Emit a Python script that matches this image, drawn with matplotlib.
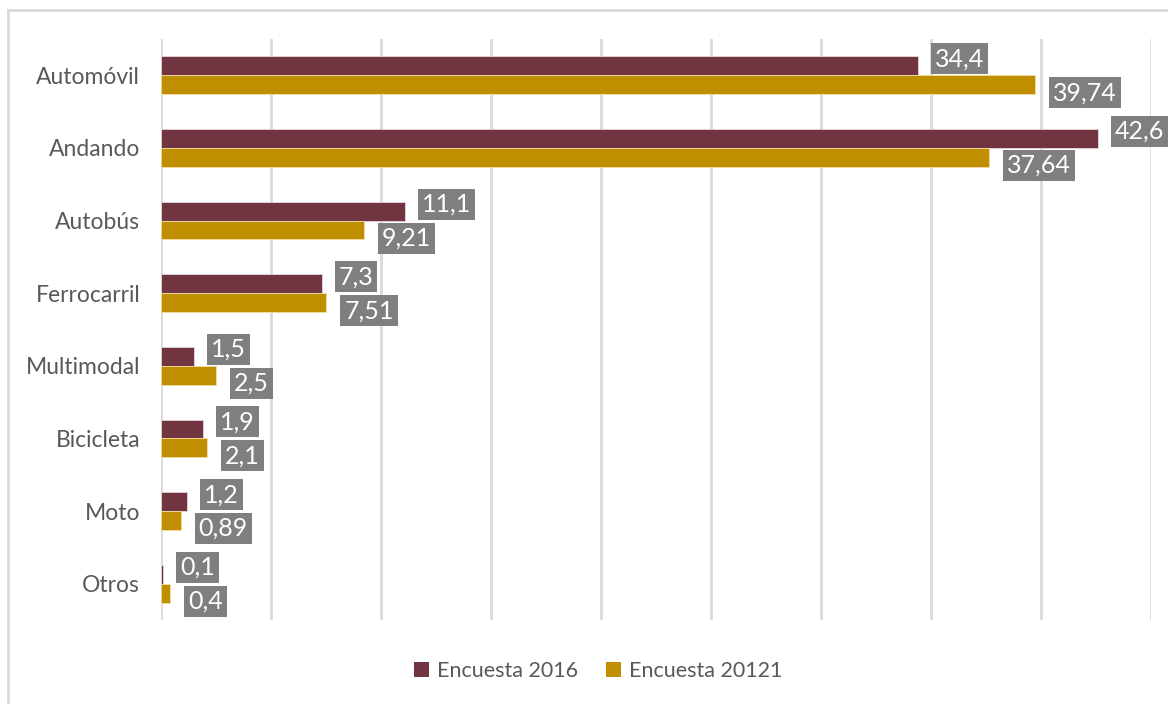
import matplotlib
matplotlib.use("Agg")
import matplotlib.pyplot as plt
from matplotlib.lines import Line2D
from matplotlib.patches import Patch
import numpy as np

plt.rcParams['font.family'] = ['Lato', 'DejaVu Sans']

categories = ["Automóvil", "Andando", "Autobús", "Ferrocarril",
              "Multimodal", "Bicicleta", "Moto", "Otros"]
values_2016 = [34.4, 42.6, 11.1, 7.3, 1.5, 1.9, 1.2, 0.1]
values_2021 = [39.74, 37.64, 9.21, 7.51, 2.5, 2.1, 0.89, 0.4]
labels_2016 = ["34,4", "42,6", "11,1", "7,3", "1,5", "1,9", "1,2", "0,1"]
labels_2021 = ["39,74", "37,64", "9,21", "7,51", "2,5", "2,1", "0,89", "0,4"]
series_names = ["Encuesta 2016", "Encuesta 20121"]

c2016 = "#713541"
c2021 = "#BF8F00"
grid_c = "#D9D9D9"
text_c = "#595959"

W, H = 1168, 704
fig = plt.figure(figsize=(W / 100, H / 100), dpi=100)
ax = fig.add_axes([161 / W, 1 - 620 / H, (1151 - 161) / W, (620 - 39) / H])

y = np.arange(len(categories))
h = 0.26
ax.barh(y - h / 2, values_2016, height=h, color=c2016, edgecolor="#E8D6DA",
        linewidth=0.6, zorder=3)
ax.barh(y + h / 2, values_2021, height=h, color=c2021, edgecolor="#F2DFA6",
        linewidth=0.6, zorder=3)

ax.set_xlim(0, 45)
ax.set_ylim(len(categories) - 0.5, -0.5)
ax.set_xticks(np.arange(0, 46, 5))
ax.set_xticklabels([])
ax.tick_params(axis="x", length=0)
ax.tick_params(axis="y", length=0, pad=15, labelsize=16.5, labelcolor=text_c)
ax.set_yticks(y)
ax.set_yticklabels(categories)
ax.grid(axis="x", color=grid_c, linewidth=2, zorder=0)
for s in ax.spines.values():
    s.set_visible(False)

box = dict(boxstyle="square,pad=0.16", facecolor="#7F7F7F", edgecolor="none")
for i in range(len(categories)):
    ax.annotate(labels_2016[i], xy=(values_2016[i], y[i] - h / 2),
                xytext=(17, 7), textcoords="offset pixels",
                ha="left", va="center", color="white", fontsize=18,
                bbox=box, zorder=5)
    ax.annotate(labels_2021[i], xy=(values_2021[i], y[i] + h / 2),
                xytext=(18, -8), textcoords="offset pixels",
                ha="left", va="center", color="white", fontsize=18,
                bbox=box, zorder=5)

handles = [Patch(facecolor=c2016, edgecolor="none"),
           Patch(facecolor=c2021, edgecolor="none")]
fig.legend(handles, series_names, loc="center", bbox_to_anchor=(598 / W, 1 - 671 / H),
           ncol=2, frameon=False, fontsize=15.5, labelcolor=text_c,
           handlelength=0.72, handleheight=0.72, handletextpad=0.35,
           columnspacing=1.3)

# chart frame
fig.add_artist(Line2D([8 / W, 1], [1 - 10 / H, 1 - 10 / H], transform=fig.transFigure,
                      color=grid_c, linewidth=2))
fig.add_artist(Line2D([8 / W, 8 / W], [0, 1 - 10 / H], transform=fig.transFigure,
                      color=grid_c, linewidth=2))

fig.savefig("out.png", dpi=100, facecolor="white")
